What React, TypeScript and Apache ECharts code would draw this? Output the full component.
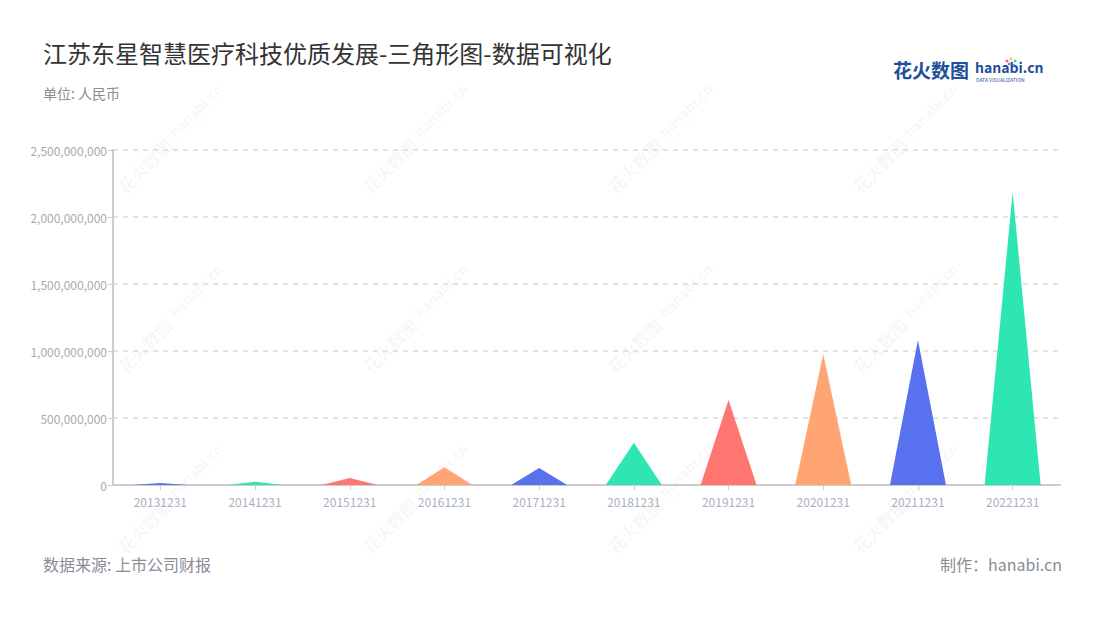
import React, { useEffect, useRef } from "react";
import * as echarts from "echarts";

const categories = ["20131231", "20141231", "20151231", "20161231", "20171231", "20181231", "20191231", "20201231", "20211231", "20221231"];
const values = [15000000, 25000000, 52000000, 132000000, 127000000, 316000000, 634000000, 975000000, 1082000000, 2186000000];
const palette = ["#5771EF", "#2EE6B2", "#FF7570", "#FFA574"];
const titleText = "江苏东星智慧医疗科技优质发展-三角形图-数据可视化";
const unitText = "单位: 人民币";
const sourceText = "数据来源: 上市公司财报";
const makerText = "制作：hanabi.cn";

const FONT = "'Noto Sans CJK SC', 'Noto Sans', sans-serif";

export default function App() {
  const ref = useRef<HTMLDivElement>(null);
  useEffect(() => {
    if (!ref.current) return;
    const chart = echarts.init(ref.current, null, { renderer: "svg" });
    const wmX = [170, 415, 660, 905];
    const wmY = [140, 320, 500];
    const watermarks: any[] = [];
    wmX.forEach((x) =>
      wmY.forEach((y) => {
        watermarks.push({
          type: "group",
          x,
          y,
          rotation: Math.PI / 4,
          silent: true,
          z: 100,
          children: [
            {
              type: "text",
              x: -70,
              y: 0,
              style: { text: "花火数图", font: `bold 17px ${FONT}`, fill: "rgba(0,0,0,0.05)", verticalAlign: "middle" },
            },
            {
              type: "text",
              x: 5,
              y: -3,
              style: { text: "hanabi.cn", font: `bold 14px ${FONT}`, fill: "rgba(0,0,0,0.05)", verticalAlign: "middle" },
            },
            {
              type: "text",
              x: 7,
              y: 8,
              style: { text: "DATA VISUALIZATION", font: `5px ${FONT}`, fill: "rgba(0,0,0,0.05)", verticalAlign: "middle" },
            },
          ],
        });
      })
    );
    chart.setOption({
      animation: false,
      textStyle: { fontFamily: FONT },
      grid: { left: 113, right: 40, top: 150, bottom: 135 },
      xAxis: {
        type: "category",
        data: categories,
        axisLine: { show: true, lineStyle: { color: "#cccccc", width: 2 } },
        axisTick: { show: true, alignWithLabel: true, lineStyle: { color: "#cccccc" } },
        axisLabel: { color: "#aab0bf", fontSize: 12, margin: 10 },
      },
      yAxis: {
        type: "value",
        min: 0,
        max: 2500000000,
        interval: 500000000,
        axisLine: { show: true, lineStyle: { color: "#cccccc", width: 2 } },
        axisTick: { show: true, lineStyle: { color: "#cccccc" } },
        axisLabel: {
          color: "#aaaaaa",
          fontSize: 12,
          margin: 6,
          formatter: (v: number) => v.toLocaleString("en-US"),
        },
        splitLine: { show: true, lineStyle: { color: "#e3e3e3", type: [5, 5], width: 2 } },
      },
      series: [
        {
          type: "pictorialBar",
          symbol: "triangle",
          barWidth: 56,
          symbolSize: [56, "100%"],
          data: values.map((v, i) => ({ value: v, itemStyle: { color: palette[i % palette.length] } })),
          z: 10,
        },
      ],
      graphic: [
        ...watermarks,
        {
          type: "text",
          left: 43,
          top: 40,
          style: { text: titleText, font: `24px ${FONT}`, fill: "#333333" },
        },
        {
          type: "text",
          left: 43,
          top: 86,
          style: { text: unitText, font: `14px ${FONT}`, fill: "#8a8c96" },
        },
        {
          type: "text",
          left: 43,
          top: 556,
          style: { text: sourceText, font: `16px ${FONT}`, fill: "#8a8c96" },
        },
        {
          type: "text",
          right: 38,
          top: 556,
          style: { text: makerText, font: `16px ${FONT}`, fill: "#8a8c96" },
        },
        {
          type: "text",
          left: 893,
          top: 60,
          style: { text: "花火数图", font: `bold 19px ${FONT}`, fill: "#1e4f9c" },
        },
        {
          type: "text",
          left: 975,
          top: 60,
          style: { text: "hanabi.cn", font: `bold 14px ${FONT}`, fill: "#1e4f9c" },
        },
        {
          type: "text",
          left: 976,
          top: 77,
          style: { text: "DATA VISUALIZATION", font: `5px ${FONT}`, fill: "#1e4f9c" },
        },
        { type: "circle", shape: { cx: 1007, cy: 61, r: 1.5 }, style: { fill: "#ff6b6b" } },
        { type: "circle", shape: { cx: 1011, cy: 59, r: 1.5 }, style: { fill: "#ffc53d" } },
        { type: "circle", shape: { cx: 1015, cy: 61, r: 1.5 }, style: { fill: "#36cfc9" } },
        { type: "circle", shape: { cx: 1009, cy: 64, r: 1.2 }, style: { fill: "#9254de" } },
        { type: "circle", shape: { cx: 1014, cy: 65, r: 1.2 }, style: { fill: "#40a9ff" } },
      ],
    });
    return () => chart.dispose();
  }, []);
  return <div ref={ref} style={{ position: "absolute", left: 0, top: 0, width: 1100, height: 620 }} />;
}
